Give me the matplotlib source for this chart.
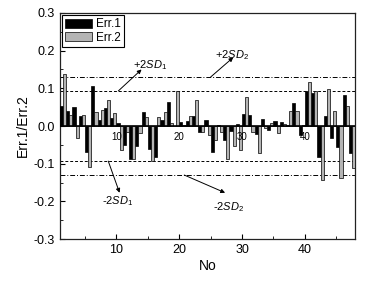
import matplotlib
matplotlib.use("Agg")
import matplotlib.pyplot as plt
import numpy as np
from matplotlib.ticker import MultipleLocator

plt.rcParams['font.family'] = ['Liberation Sans', 'DejaVu Sans']
plt.rcParams['mathtext.fontset'] = 'custom'
plt.rcParams['mathtext.it'] = 'Liberation Sans:italic'
plt.rcParams['mathtext.rm'] = 'Liberation Sans'

# ---- data ----
no = list(range(1, 48))
err1 = [0.052, 0.040, 0.050, 0.027, -0.069, 0.106, 0.015, 0.049, 0.021, 0.008,
        -0.050, -0.088, -0.052, 0.037, -0.061, -0.081, 0.016, 0.063, 0.000, 0.012,
        0.014, 0.027, -0.015, 0.016, -0.070, 0.003, -0.038, -0.013, 0.005, 0.033,
        0.028, -0.020, 0.019, -0.010, 0.014, 0.010, 0.003, 0.060, -0.025, 0.092,
        0.088, -0.082, 0.026, -0.031, -0.055, 0.083, -0.071]
err2 = [0.138, 0.030, -0.031, 0.030, -0.110, 0.037, 0.042, 0.069, 0.035, -0.063,
        -0.015, -0.088, -0.019, 0.025, -0.094, 0.025, 0.038, 0.009, 0.092, 0.002,
        0.027, 0.070, -0.015, -0.023, -0.037, -0.015, -0.087, -0.054, -0.063, 0.076,
        -0.015, -0.072, -0.006, 0.007, -0.019, 0.005, 0.040, 0.040, 0.002, 0.117,
        0.092, -0.142, 0.099, 0.039, -0.138, 0.053, -0.111]
sd1 = 0.093
sd2 = 0.130
xticks = [10, 20, 30, 40]
yticks = [-0.3, -0.2, -0.1, 0.0, 0.1, 0.2, 0.3]

fig = plt.figure(figsize=(3.79, 2.81), dpi=100)
ax = fig.add_axes([0.158, 0.149, 0.779, 0.805])

x = np.array(no, dtype=float)
ax.bar(x, err1, width=0.5, align='edge', color='black', edgecolor='black',
       linewidth=0.5, label='Err.1', zorder=3)
ax.bar(x + 0.5, err2, width=0.5, align='edge', color='#b4b4b4', edgecolor='black',
       linewidth=0.5, label='Err.2', zorder=3)

ax.axhline(0, color='black', lw=1.2, zorder=4)
ax.axhline(sd1, color='black', lw=0.7, ls=(0, (3, 2)), zorder=2)
ax.axhline(-sd1, color='black', lw=0.7, ls=(0, (3, 2)), zorder=2)
ax.axhline(sd2, color='black', lw=0.7, ls=(0, (5, 2, 1, 2)), zorder=2)
ax.axhline(-sd2, color='black', lw=0.7, ls=(0, (5, 2, 1, 2)), zorder=2)

for t in xticks:
    ax.text(t, -0.016, str(t), ha='center', va='top', fontsize=7, zorder=5)

ax.set_xlim(1, 48)
ax.set_ylim(-0.3, 0.3)
ax.set_xticks(xticks)
ax.set_yticks(yticks)
ax.set_yticklabels([f"{v:.1f}" for v in yticks])
ax.xaxis.set_minor_locator(MultipleLocator(5))
ax.yaxis.set_minor_locator(MultipleLocator(0.05))
ax.tick_params(which='both', direction='in', top=False, right=False, labelsize=9)
ax.tick_params(which='major', length=3.5, width=0.8)
ax.tick_params(which='minor', length=2, width=0.6)
for s in ax.spines.values():
    s.set_linewidth(0.9)
    s.set_color('#222222')

ax.set_xlabel('No', fontsize=10, labelpad=2)
ax.set_ylabel('Err.1/Err.2', fontsize=10, labelpad=3)

ap = dict(arrowstyle='-|>', lw=0.7, color='black', mutation_scale=6, shrinkA=0, shrinkB=0)
ax.annotate('', xy=(14.0, 0.150), xytext=(10.3, sd1), arrowprops=ap)
ax.annotate('', xy=(28.6, 0.182), xytext=(25.0, sd2), arrowprops=ap)
ax.annotate('', xy=(10.5, -0.177), xytext=(8.7, -sd1), arrowprops=ap)
ax.annotate('', xy=(27.3, -0.177), xytext=(20.8, -sd2), arrowprops=ap)
ax.text(15.3, 0.162, r'+2$SD_1$', fontsize=8, ha='center', va='center')
ax.text(28.4, 0.188, r'+2$SD_2$', fontsize=8, ha='center', va='center')
ax.text(10.2, -0.198, r'-2$SD_1$', fontsize=8, ha='center', va='center')
ax.text(27.9, -0.215, r'-2$SD_2$', fontsize=8, ha='center', va='center')

leg = ax.legend(loc='upper left', fontsize=8.5, frameon=True, fancybox=False,
                edgecolor='black', framealpha=1, borderpad=0.25, handlelength=2.3,
                handleheight=0.8, handletextpad=0.3, labelspacing=0.15,
                borderaxespad=0.2)
leg.get_frame().set_linewidth(0.8)

fig.savefig('out.png', dpi=100)
